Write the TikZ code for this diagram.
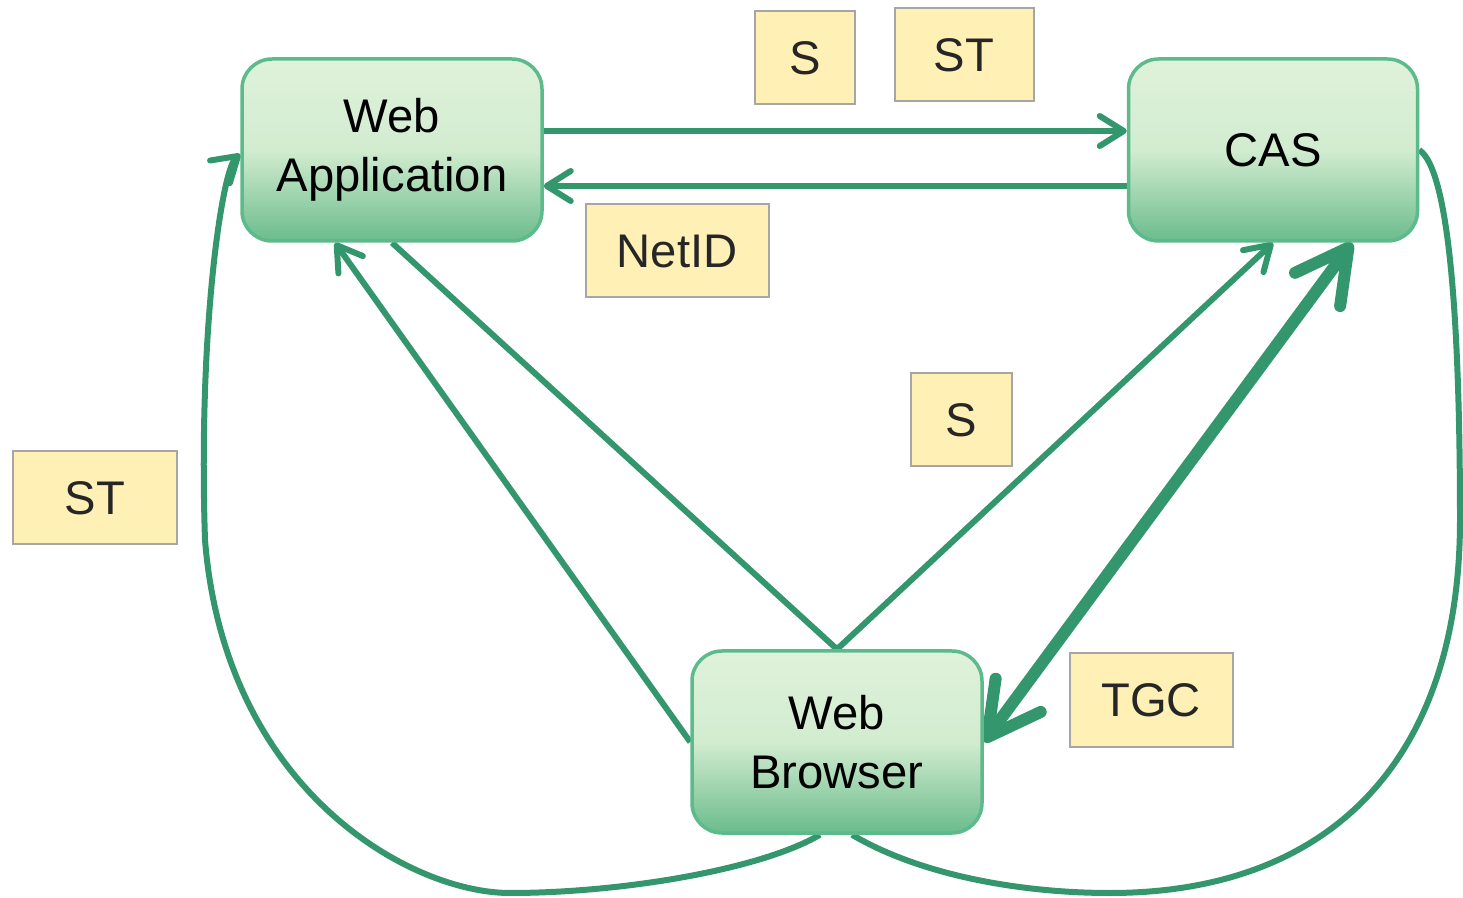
\documentclass[tikz,border=0pt]{standalone}
\usepackage{fontspec}
\setmainfont{Liberation Sans}
\usepackage{tikz}
\usetikzlibrary{arrows.meta, positioning, calc, backgrounds}
\definecolor{CASGreen}{HTML}{33966C}
\definecolor{BoxEdge}{HTML}{5DBA8B}
\definecolor{BoxTop}{HTML}{DFF2DA}
\definecolor{BoxMid}{HTML}{D2ECD0}
\definecolor{BoxBottom}{HTML}{6BBC8C}
\definecolor{TagFill}{HTML}{FFF0B5}
\definecolor{TagEdge}{HTML}{A6A6A6}

\begin{document}
\begin{tikzpicture}[x=0.5pt, y=-0.5pt, >={Straight Barb[length=12pt,width=15pt,round]}, font=\fontsize{23.6}{29.5}\selectfont]
    \tikzstyle{block} = [rectangle, draw=BoxEdge, line width=1.75pt, top color=BoxTop, bottom color=BoxBottom, middle color=BoxMid, rounded corners=15pt, minimum height=91pt, align=center]
    \tikzstyle{tag} = [rectangle, draw=TagEdge, fill=TagFill, line width=1pt, minimum height=46.5pt, text=black!85]
    \tikzstyle{line} = [draw, ->, line width=3pt, CASGreen]
    \tikzstyle{fat} = [draw, line width=6pt, CASGreen, {Straight Barb[length=26pt,width=28pt,round]}-{Straight Barb[length=26pt,width=28pt,round]}]

    \useasboundingbox (0,0) rectangle (1463,898);

    \node [block, minimum width=150pt] (webapp) at (392,150) {Web\\Application};
    \node [block, minimum width=144.5pt] (cas) at (1273,150) {CAS};
    \node [block, minimum width=145pt] (browser) at (837,742) {Web\\Browser};

    \node [tag, minimum width=50pt] (s1) at (805,58) {S};
    \node [tag, minimum width=69.5pt] (st1) at (964,55) {ST};
    \node [tag, minimum width=91.5pt] (netid) at (677,251) {NetID};
    \node [tag, minimum width=50.5pt] (s2) at (961,420) {S};
    \node [tag, minimum width=82pt] (st2) at (95,498) {ST};
    \node [tag, minimum width=81.5pt] (tgc) at (1151,700) {TGC};

    \begin{pgfonlayer}{background}
    \path [line] ([yshift=9.5pt]webapp.east) -- ([yshift=9.5pt]cas.west);
    \path [line] ([yshift=-18pt]cas.west) -- ([yshift=-18pt]webapp.east);
    \path [line] (browser.west) -- ([xshift=-28.5pt]webapp.south);
    \path [line, -] (webapp.south) -- (browser.north);
    \path [line] (browser.north) -- (cas.south);
    \path [fat] (browser.east) -- ([xshift=39.5pt]cas.south);
    % redirect loops under the browser
    \path [line] ($(browser.south)+(-17,0)$) .. controls (760,870) and (620,893) .. (510,893)
        .. controls (410,893) and (225,790) .. (205,540)
        .. controls (198,330) and (222,170) .. ([yshift=-2pt]webapp.west);
    \path [line, -] ($(browser.south)+(15,0)$) .. controls (920,875) and (1020,893) .. (1110,893)
        .. controls (1330,893) and (1460,760) .. (1460,520)
        .. controls (1460,330) and (1450,170) .. (cas.east);
    \end{pgfonlayer}
\end{tikzpicture}
\end{document}
